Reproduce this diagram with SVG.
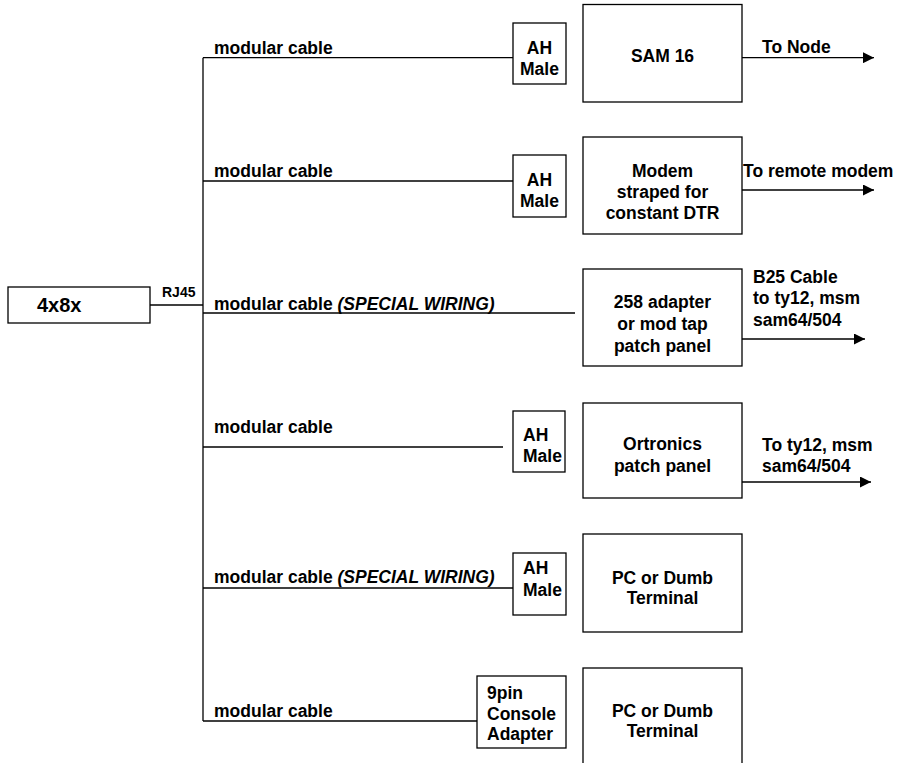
<svg xmlns="http://www.w3.org/2000/svg" width="898" height="763" viewBox="0 0 898 763">
<style>
text{font-family:"Liberation Sans",Arial,sans-serif;font-weight:bold;font-size:17.5px;fill:#000}
.c{text-anchor:middle}
.i{font-style:italic}
.b{fill:#fff;stroke:#000;stroke-width:1.3}
#connectors line{stroke:#000;stroke-width:1.3;fill:none}
</style>
<defs>
<marker id="arr" markerUnits="userSpaceOnUse" markerWidth="11" markerHeight="11" refX="11" refY="5.5" orient="auto">
<path d="M0,0 L11,5.5 L0,11 z" fill="#000"/>
</marker>
</defs>
<rect width="898" height="763" fill="#fff"/>
<g id="connectors">
<line x1="150" y1="305" x2="203" y2="305"/>
<line x1="203" y1="57.7" x2="203" y2="721"/>
<line x1="203" y1="57.7" x2="513" y2="57.7"/>
<line x1="203" y1="181" x2="513" y2="181"/>
<line x1="203" y1="313" x2="575" y2="313"/>
<line x1="203" y1="447" x2="503" y2="447"/>
<line x1="203" y1="588" x2="513" y2="588"/>
<line x1="203" y1="721" x2="477" y2="721"/>
<line x1="742" y1="57.7" x2="874" y2="57.7" marker-end="url(#arr)"/>
<line x1="742" y1="190" x2="874" y2="190" marker-end="url(#arr)"/>
<line x1="742" y1="339" x2="865" y2="339" marker-end="url(#arr)"/>
<line x1="742" y1="482" x2="871" y2="482" marker-end="url(#arr)"/>
<text x="162" y="297" style="font-size:14px">RJ45</text>
<text x="214" y="54">modular cable</text>
<text x="214" y="177">modular cable</text>
<text x="214" y="310">modular cable <tspan class="i">(SPECIAL WIRING)</tspan></text>
<text x="214" y="433">modular cable</text>
<text x="214" y="583">modular cable <tspan class="i">(SPECIAL WIRING)</tspan></text>
<text x="214" y="717">modular cable</text>
<text x="762" y="53">To Node</text>
<text x="743" y="177">To remote modem</text>
<text x="753" y="283">B25 Cable</text>
<text x="753" y="304">to ty12, msm</text>
<text x="753" y="326">sam64/504</text>
<text x="762" y="451">To ty12, msm</text>
<text x="762" y="472">sam64/504</text>
</g>
<g id="n4x8x">
<rect class="b" x="8" y="287" width="142" height="36"/>
<text x="37" y="312" style="font-size:20px">4x8x</text>
</g>
<g id="ah1">
<rect class="b" x="513" y="23" width="53" height="61"/>
<text x="539.5" y="54" class="c">AH</text>
<text x="539.5" y="75" class="c">Male</text>
</g>
<g id="ah2">
<rect class="b" x="513" y="155" width="53" height="62"/>
<text x="539.5" y="186" class="c">AH</text>
<text x="539.5" y="207" class="c">Male</text>
</g>
<g id="ah4">
<rect class="b" x="513" y="411" width="52" height="61"/>
<text x="523" y="441">AH</text>
<text x="523" y="462">Male</text>
</g>
<g id="ah5">
<rect class="b" x="513" y="553" width="53" height="62"/>
<text x="523" y="574">AH</text>
<text x="523" y="596">Male</text>
</g>
<g id="pin9">
<rect class="b" x="477" y="676" width="89" height="72"/>
<text x="487" y="699">9pin</text>
<text x="487" y="720">Console</text>
<text x="487" y="740">Adapter</text>
</g>
<g id="sam16">
<rect class="b" x="583" y="4.5" width="159" height="97.5"/>
<text x="662.5" y="62" class="c">SAM 16</text>
</g>
<g id="modem">
<rect class="b" x="583" y="137" width="159" height="97"/>
<text x="662.5" y="177" class="c">Modem</text>
<text x="662.5" y="198" class="c">straped for</text>
<text x="662.5" y="219" class="c">constant DTR</text>
</g>
<g id="adapter258">
<rect class="b" x="583" y="269" width="159" height="97"/>
<text x="662.5" y="308" class="c">258 adapter</text>
<text x="662.5" y="330" class="c">or mod tap</text>
<text x="662.5" y="352" class="c">patch panel</text>
</g>
<g id="ortronics">
<rect class="b" x="583" y="403" width="159" height="95"/>
<text x="662.5" y="450" class="c">Ortronics</text>
<text x="662.5" y="472" class="c">patch panel</text>
</g>
<g id="pc1">
<rect class="b" x="583" y="534" width="159" height="98"/>
<text x="662.5" y="584" class="c">PC or Dumb</text>
<text x="662.5" y="604" class="c">Terminal</text>
</g>
<g id="pc2">
<rect class="b" x="583" y="668" width="159" height="110"/>
<text x="662.5" y="717" class="c">PC or Dumb</text>
<text x="662.5" y="737" class="c">Terminal</text>
</g>
</svg>
